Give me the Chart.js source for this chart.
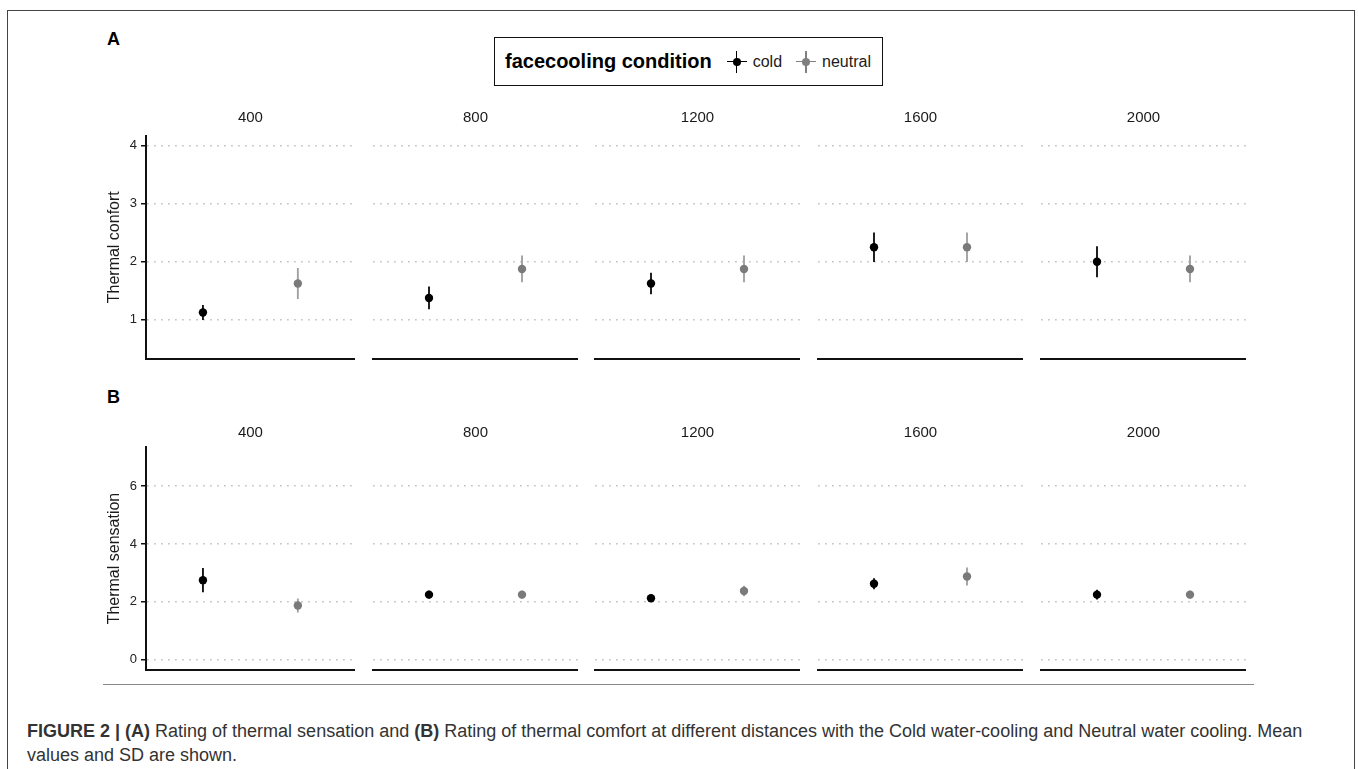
<!DOCTYPE html>
<html>
<head>
<meta charset="utf-8">
<script src="https://cdn.jsdelivr.net/npm/chart.js@4.4.1/dist/chart.umd.min.js"></script>
<style>
  body { margin: 0; width: 1358px; height: 769px; background: #fff; overflow: hidden; position: relative;
         font-family: "Liberation Sans", Arial, sans-serif; }
  #frame { position: absolute; left: 7px; top: 10px; width: 1348px; height: 820px;
           border: 1.5px solid #444; border-bottom: none; box-sizing: border-box; }
  .tag { position: absolute; left: 107px; font-size: 18px; line-height: 18px; font-weight: bold; color: #000; }
  .legend { position: absolute; left: 494px; top: 37px; height: 49px; box-sizing: border-box;
            border: 1.5px solid #111; padding: 0 11px 0 10px; display: flex; align-items: center; }
  .legend .ltitle { font-size: 20px; font-weight: bold; color: #000; margin-right: 15px; }
  .legend .lab { font-size: 16px; color: #1a1a1a; margin: 0 14px 0 6px; }
  .legend .lab:last-child { margin-right: 0; }
  .key { position: relative; display: inline-block; width: 20px; height: 22px; }
  .key::before { content: ''; position: absolute; left: 0; right: 0; top: 10.25px; height: 1.5px; background: currentColor; }
  .key::after { content: ''; position: absolute; top: 0; bottom: 0; left: 9.25px; width: 1.5px; background: currentColor; }
  .key i { position: absolute; left: 6px; top: 7px; width: 8px; height: 8px; border-radius: 50%; background: currentColor; }
  .key.cold { color: #000; }
  .key.neutral { color: #808080; }
  canvas { position: absolute; }
  #rule { position: absolute; left: 103px; top: 684px; width: 1151px; height: 1px; background: #888; }
  .caption { position: absolute; left: 27px; top: 719px; font-size: 18px; line-height: 24px; color: #333; white-space: nowrap; }
</style>
</head>
<body>
<div id="frame"></div>
<div class="tag" style="top:30px">A</div>
<div class="tag" style="top:388px">B</div>
<div class="legend">
  <span class="ltitle">facecooling condition</span>
  <span class="key cold"><i></i></span><span class="lab">cold</span>
  <span class="key neutral"><i></i></span><span class="lab">neutral</span>
</div>
<div id="rule"></div>
<div class="caption"><b>FIGURE 2 | (A)</b> Rating of thermal sensation and <b>(B)</b> Rating of thermal comfort at different distances with the Cold water-cooling and Neutral water cooling. Mean<br>values and SD are shown.</div>

<script>
// data
const distances = ['400', '800', '1200', '1600', '2000'];
const conditions = ['cold', 'neutral'];

const comfortCold = [1.125, 1.375, 1.625, 2.25, 2.0];
const comfortColdSd = [0.125, 0.19, 0.18, 0.25, 0.26];
const comfortNeutral = [1.625, 1.875, 1.875, 2.25, 1.875];
const comfortNeutralSd = [0.26, 0.225, 0.225, 0.25, 0.225];

const sensationCold = [2.75, 2.25, 2.125, 2.625, 2.25];
const sensationColdSd = [0.41, 0.12, 0.1, 0.18, 0.16];
const sensationNeutral = [1.875, 2.25, 2.375, 2.875, 2.25];
const sensationNeutralSd = [0.23, 0.12, 0.17, 0.3, 0.12];

const comfortTicks = [1, 2, 3, 4];
const sensationTicks = [0, 2, 4, 6];

Chart.defaults.font.family = '"Liberation Sans", Arial, sans-serif';

// facet geometry
const facetLeft = [146, 369, 591, 814, 1037];
const facetW = 213;
const axisW = 56;

const panels = [
  { yTitle: 'Thermal confort', cold: comfortCold, coldSd: comfortColdSd,
    neutral: comfortNeutral, neutralSd: comfortNeutralSd, ticks: comfortTicks,
    min: 0.326, max: 4.173, top: 109, height: 254, stripPad: 8.7 },
  { yTitle: 'Thermal sensation', cold: sensationCold, coldSd: sensationColdSd,
    neutral: sensationNeutral, neutralSd: sensationNeutralSd, ticks: sensationTicks,
    min: -0.347, max: 7.34, top: 424, height: 250, stripPad: 5.3 }
];

const pointColors = ['#000000', '#7a7a7a'];
const barColors = ['#111111', '#a0a0a0'];

function makeFacet(panel, k) {
  const first = k === 0;
  const canvas = document.createElement('canvas');
  canvas.width = facetW + (first ? axisW : 0);
  canvas.height = panel.height;
  canvas.style.left = (facetLeft[k] - (first ? axisW : 0)) + 'px';
  canvas.style.top = panel.top + 'px';
  document.body.appendChild(canvas);

  const means = [panel.cold[k], panel.neutral[k]];
  const sds = [panel.coldSd[k], panel.neutralSd[k]];

  new Chart(canvas, {
    type: 'bar',
    data: {
      datasets: [
        {
          type: 'scatter',
          data: conditions.map((c, i) => ({ x: i + 1, y: means[i] })),
          pointBackgroundColor: pointColors,
          pointBorderWidth: 0,
          pointRadius: 4.2,
          order: 0
        },
        {
          type: 'bar',
          data: conditions.map((c, i) => ({ x: i + 1, y: [means[i] - sds[i], means[i] + sds[i]] })),
          backgroundColor: barColors,
          borderWidth: 0,
          barThickness: 1.2,
          order: 1
        }
      ]
    },
    options: {
      responsive: false,
      animation: false,
      events: [],
      layout: { padding: { left: 0, right: 0, top: 0, bottom: 3 } },
      plugins: {
        legend: { display: false },
        tooltip: { enabled: false },
        title: {
          display: true,
          text: distances[k],
          fullSize: false,
          color: '#1a1a1a',
          font: { size: 15, weight: 'normal' },
          padding: { top: 0, bottom: panel.stripPad }
        }
      },
      scales: {
        x: {
          type: 'linear',
          min: 0.4,
          max: 2.6,
          offset: false,
          grid: { display: false, offset: false },
          ticks: { display: false },
          border: { display: true, color: '#111', width: 2 },
          afterFit: (s) => { s.height = 0; }
        },
        y: {
          min: panel.min,
          max: panel.max,
          afterBuildTicks: (s) => { s.ticks = panel.ticks.map(v => ({ value: v })); },
          afterFit: (s) => {
            s.width = first ? axisW : 0;
            s.paddingTop = 0;
            s.paddingBottom = 0;
          },
          grid: {
            color: '#c6c6c6',
            lineWidth: 1.5,
            drawTicks: first,
            tickLength: 5,
            tickColor: '#111',
            tickWidth: 1.5
          },
          border: { display: first, color: '#111', width: 2, dash: [1.8, 5.2] },
          ticks: { display: first, color: '#222', font: { size: 13 }, padding: 4 },
          title: {
            display: first,
            text: panel.yTitle,
            color: '#1a1a1a',
            font: { size: 16 },
            padding: { top: 15, bottom: 0 }
          }
        }
      }
    }
  });
}

panels.forEach(panel => {
  distances.forEach((d, k) => makeFacet(panel, k));
});
</script>
</body>
</html>
